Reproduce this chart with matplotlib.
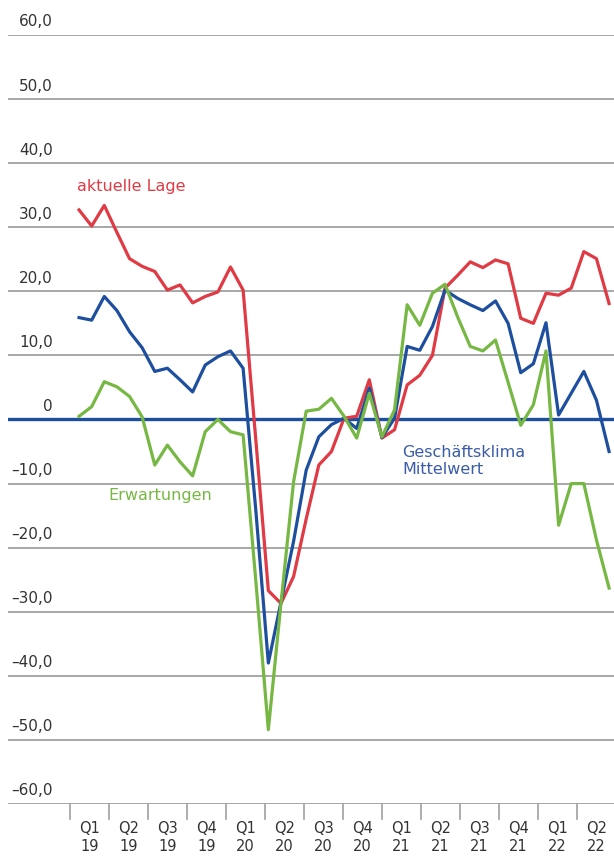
import numpy as np
import matplotlib
matplotlib.use('Agg')
import matplotlib.pyplot as plt

# monthly values Jan 2019 - Jul 2022
lage = [32.7, 30.2, 33.4, 29.2, 25.1, 23.9, 23.1, 20.2, 21.0, 18.2, 19.2, 19.9,
        23.8, 20.2, -3.0, -26.7, -28.7, -24.5, -15.5, -7.1, -5.0, 0.2, 0.5, 6.2,
        -2.9, -1.6, 5.4, 6.9, 10.0, 20.5, 22.5, 24.6, 23.7, 24.9, 24.3, 15.8,
        15.0, 19.7, 19.4, 20.5, 26.2, 25.1, 18.1]
klima = [15.9, 15.5, 19.2, 17.0, 13.7, 11.2, 7.5, 8.0, 6.2, 4.3, 8.5, 9.8,
         10.7, 8.0, -14.0, -38.0, -28.5, -19.0, -7.9, -2.7, -0.8, 0.2, -1.4, 4.9,
         -2.8, 0.2, 11.4, 10.8, 14.5, 20.2, 18.9, 17.9, 17.0, 18.5, 15.0, 7.3,
         8.7, 15.1, 0.7, 4.1, 7.5, 3.0, -5.0]
erwartung = [0.5, 2.0, 5.9, 5.1, 3.6, 0.4, -7.1, -4.0, -6.6, -8.8, -1.9, 0.0,
             -1.9, -2.4, -25.0, -48.4, -28.7, -9.7, 1.3, 1.6, 3.3, 0.5, -2.9, 4.1,
             -2.7, 1.5, 17.9, 14.7, 19.7, 21.1, 16.0, 11.4, 10.7, 12.4, 5.8, -0.9,
             2.3, 10.7, -16.5, -10.0, -10.0, -18.8, -26.3]
quarters = ['Q1', 'Q2', 'Q3', 'Q4', 'Q1', 'Q2', 'Q3', 'Q4', 'Q1', 'Q2', 'Q3', 'Q4', 'Q1', 'Q2']
years = ['19', '19', '19', '19', '20', '20', '20', '20', '21', '21', '21', '21', '22', '22']
yticks = [60, 50, 40, 30, 20, 10, 0, -10, -20, -30, -40, -50, -60]

red = '#e03a44'
blue = '#1e4f9e'
green = '#76b843'
grey = '#a0a0a0'
txt = '#333333'

plt.rcParams['font.family'] = ['DejaVu Sans']

fig = plt.figure(figsize=(6.14, 8.57), dpi=100)
ax = fig.add_axes([8 / 614, 1 - 804 / 857, 606 / 614, (804 - 35) / 857])
x = np.arange(len(lage))
ax.set_xlim(-5.63, 42.39)
ax.set_ylim(-60, 60)

for v in yticks:
    if v == 0:
        ax.axhline(0, color=blue, lw=2.4, zorder=1)
        label = '0'
    else:
        ax.axhline(v, color=grey, lw=1.3, zorder=0)
        label = ('%.1f' % v).replace('.', ',').replace('-', '\u2013')
    ax.annotate(label, xy=(0.0743, v), xycoords=ax.get_yaxis_transform(),
                xytext=(0, 4), textcoords='offset points',
                ha='right', va='bottom', fontsize=11, color=txt)

ax.plot(x, lage, color=red, lw=2.3, zorder=3)
ax.plot(x, klima, color=blue, lw=2.3, zorder=4)
ax.plot(x, erwartung, color=green, lw=2.3, zorder=5)

# quarter boundaries on the bottom axis
edges = np.linspace(-0.71, 39.46, 14)
step = edges[1] - edges[0]
for e in edges:
    ax.plot([e, e], [-60, -62.3], color=grey, lw=1.2, clip_on=False)
for e, q, yr in zip(edges, quarters, years):
    ax.text(e + step / 2, -63.8, q, ha='center', va='center', fontsize=10.5,
            color=txt, clip_on=False)
    ax.text(e + step / 2, -66.6, yr, ha='center', va='center', fontsize=10.5,
            color=txt, clip_on=False)

ax.text(-0.2, 36.3, 'aktuelle Lage', color=red, fontsize=11.5, va='center')
ax.text(2.3, -11.8, 'Erwartungen', color=green, fontsize=11.5, va='center')
ax.text(25.6, -6.5, 'Gesch\u00e4ftsklima\nMittelwert', color='#3a5ca8',
        fontsize=11.5, va='center', linespacing=1.2)

for s in ax.spines.values():
    s.set_visible(False)
ax.set_xticks([])
ax.set_yticks([])

fig.savefig('out.png', dpi=100)
